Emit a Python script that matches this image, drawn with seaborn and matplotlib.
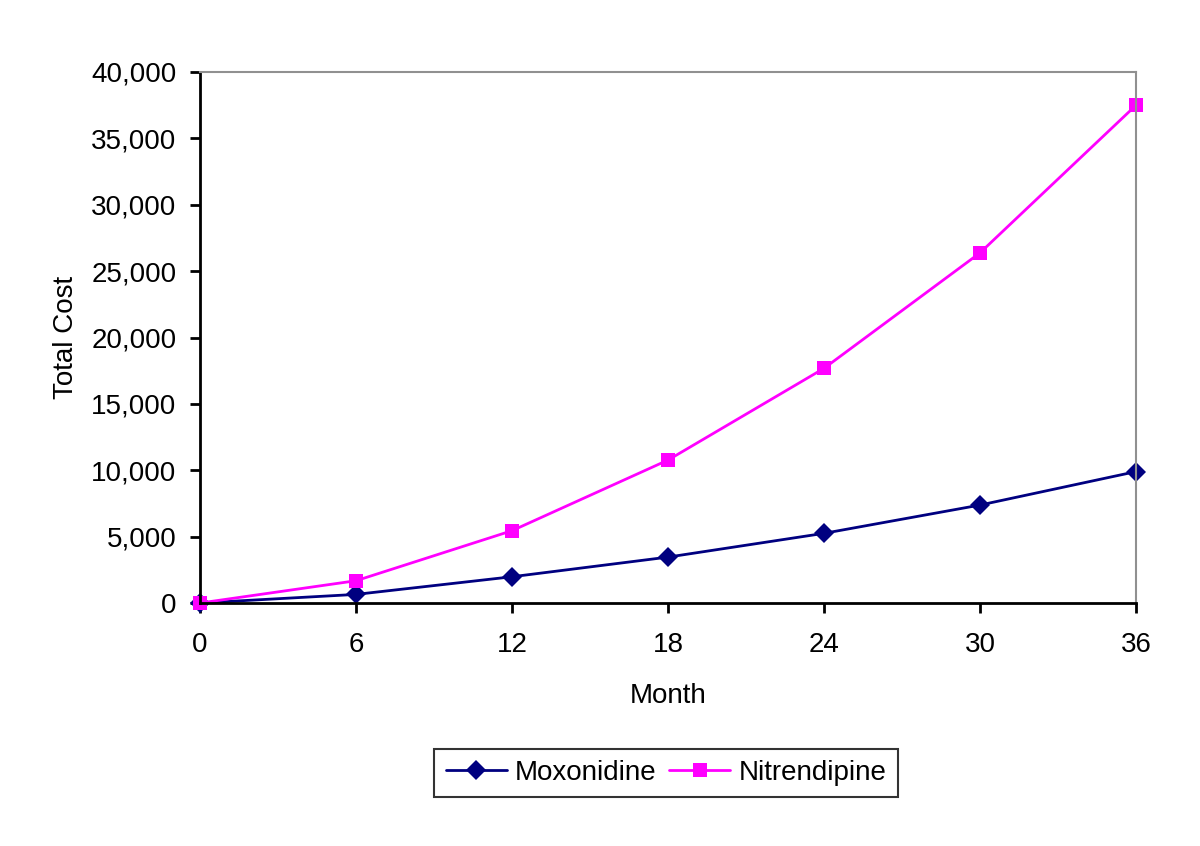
import matplotlib
matplotlib.use('Agg')
import matplotlib.pyplot as plt
import matplotlib.ticker as mticker
import pandas as pd
import seaborn as sns

# Values
months = [0, 6, 12, 18, 24, 30, 36]
moxonidine = [0, 650, 1980, 3460, 5250, 7380, 9900]
nitrendipine = [0, 1680, 5450, 10770, 17680, 26380, 37500]
drugs = ['Moxonidine', 'Nitrendipine']
y_ticks = [0, 5000, 10000, 15000, 20000, 25000, 30000, 35000, 40000]

df = pd.DataFrame({
    'Month': months * 2,
    'Total Cost': moxonidine + nitrendipine,
    'Drug': [drugs[0]] * len(months) + [drugs[1]] * len(months),
})

sns.set_style('white')
plt.rcParams['font.family'] = ['Liberation Sans', 'DejaVu Sans']
plt.rcParams['text.color'] = 'black'
plt.rcParams['axes.labelcolor'] = 'black'
plt.rcParams['xtick.color'] = 'black'
plt.rcParams['ytick.color'] = 'black'

fig = plt.figure(figsize=(12, 8.46), dpi=100)
ax = fig.add_axes([0.1667, 0.2872, 0.78, 0.6277])

palette = {'Moxonidine': '#000080', 'Nitrendipine': '#FF00FF'}
markers = {'Moxonidine': 'D', 'Nitrendipine': 's'}
sns.lineplot(data=df, x='Month', y='Total Cost', hue='Drug', style='Drug',
             palette=palette, markers=markers, dashes=False, ax=ax,
             linewidth=2, markersize=10, markeredgewidth=0, legend=False)

ax.set_xlim(0, 36)
ax.set_ylim(0, 40000)
ax.set_xticks(months)
ax.set_yticks(y_ticks)
ax.yaxis.set_major_formatter(mticker.FuncFormatter(lambda v, p: f"{int(v):,}"))
ax.tick_params(axis='both', direction='out', length=7, width=2,
               labelsize=20, bottom=True, left=True)
ax.tick_params(axis='x', pad=14)
ax.tick_params(axis='y', pad=10)

for s in ['left', 'bottom']:
    ax.spines[s].set_color('black')
    ax.spines[s].set_linewidth(2)
for s in ['top', 'right']:
    ax.spines[s].set_color('#909090')
    ax.spines[s].set_linewidth(1.5)

for line in ax.lines:
    line.set_clip_on(False)

ax.set_xlabel('Month', fontsize=20, labelpad=18)
ax.set_ylabel('Total Cost', fontsize=20, labelpad=9)

handles = [plt.Line2D([0], [0], color=palette[d], marker=markers[d], lw=2,
                      markersize=10, markeredgewidth=0) for d in drugs]
leg = fig.legend(handles, drugs, loc='center', bbox_to_anchor=(0.555, 0.0863),
                 ncol=2, fontsize=20, frameon=True, fancybox=False,
                 edgecolor='black', handlelength=2.2, columnspacing=0.45,
                 handletextpad=0.3, borderpad=0.4, borderaxespad=0)
leg.get_frame().set_linewidth(1.5)

fig.savefig('out.png', dpi=100, facecolor='white')
